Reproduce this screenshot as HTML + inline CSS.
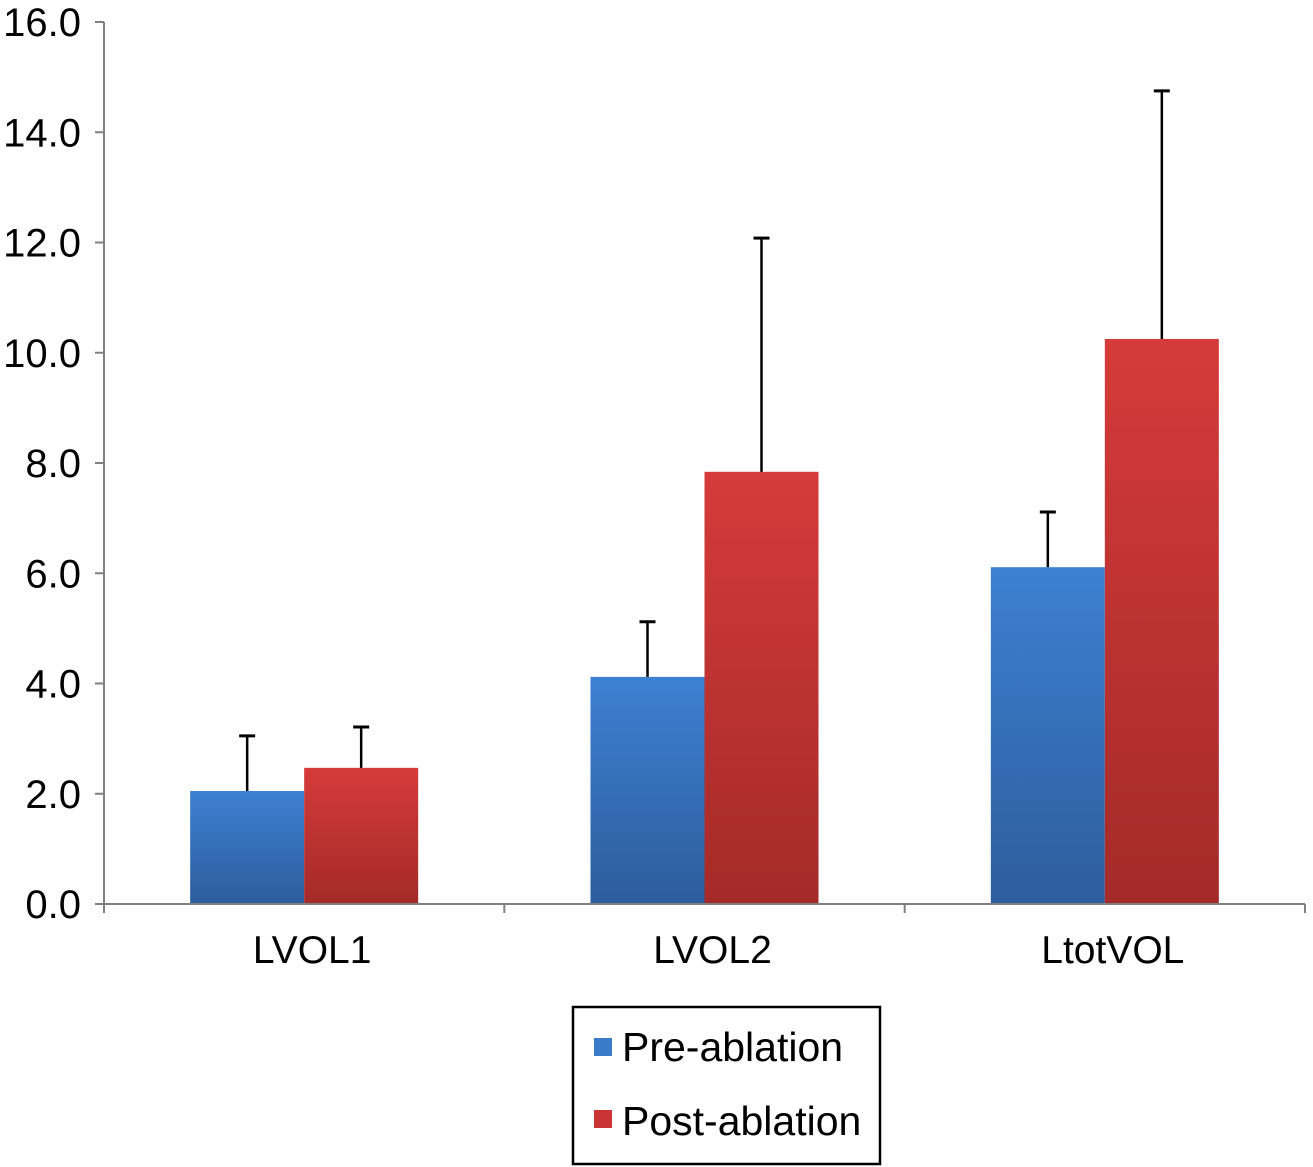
<!DOCTYPE html>
<html><head><meta charset="utf-8"><style>
html,body{margin:0;padding:0;background:#fff;}
svg{display:block;font-family:"Liberation Sans",Arial,sans-serif;}
</style></head><body>
<svg id="chart" width="1313" height="1167" viewBox="0 0 1313 1167">
<defs>
<linearGradient id="gb" x1="0" y1="0" x2="0" y2="1"><stop offset="0" stop-color="#3d80d2"/><stop offset="1" stop-color="#2d5d9c"/></linearGradient>
<linearGradient id="gr" x1="0" y1="0" x2="0" y2="1"><stop offset="0" stop-color="#d53b3a"/><stop offset="1" stop-color="#a42a29"/></linearGradient>
</defs>
<g id="plot"></g>
<g>
<rect x="573" y="1007" width="307" height="157" fill="#fff" stroke="#000" stroke-width="2.5"/>
<rect x="594" y="1038" width="18" height="18" fill="#3a7acb"/>
<text x="622" y="1061" font-size="41">Pre-ablation</text>
<rect x="594" y="1110" width="18" height="18" fill="#c83534"/>
<text x="622" y="1135" font-size="41">Post-ablation</text>
</g>
</svg>
<script>
const categories = ["LVOL1","LVOL2","LtotVOL"];
const preValues = [2.05, 4.12, 6.11];
const preErrors = [1.0, 1.0, 1.0];
const postValues = [2.47, 7.84, 10.25];
const postErrors = [0.74, 4.24, 4.5];
const yTicks = [0,2,4,6,8,10,12,14,16];

const NS="http://www.w3.org/2000/svg";
const g=document.getElementById('plot');
const x0=104,x1=1305,y0=904,yTop=22,yMax=16;
function y(v){return y0-(v/yMax)*(y0-yTop);}
const band=(x1-x0)/categories.length;
function mk(t,a){const e=document.createElementNS(NS,t);for(const k in a)e.setAttribute(k,a[k]);g.appendChild(e);return e;}
let e=mk('line',{x1:x0,y1:yTop,x2:x0,y2:y0,stroke:'#808080','stroke-width':2});


yTicks.forEach(v=>{
 let t=mk('line',{x1:x0-9,y1:y(v),x2:x0,y2:y(v),stroke:'#808080','stroke-width':2});
 
 
 let l=mk('text',{x:x0-23,y:y(v)+14,'font-size':40,'text-anchor':'end'});
 l.textContent=v.toFixed(1);
 
 
});
const barW=114;
categories.forEach((c,i)=>{
 const cx=x0+band*(i+0.5);
 [[preValues[i],preErrors[i],'url(#gb)',cx-barW,'bar-pre-'],[postValues[i],postErrors[i],'url(#gr)',cx,'bar-post-']].forEach(([v,er,f,bx,nm])=>{
  let b=mk('rect',{x:bx,y:y(v),width:barW,height:y0-y(v),fill:f});
  
  
  const ex=bx+barW/2;
  let el=mk('line',{x1:ex,y1:y(v),x2:ex,y2:y(v+er),stroke:'#000','stroke-width':2.5});
  
  
  let cp=mk('line',{x1:ex-8,y1:y(v+er),x2:ex+8,y2:y(v+er),stroke:'#000','stroke-width':3});
  
  
 });
 let l=mk('text',{x:cx+8,y:963,'font-size':39,'text-anchor':'middle'});
 l.textContent=c;
 
 
});
e=mk('line',{x1:x0,y1:y0,x2:x1,y2:y0,stroke:'#808080','stroke-width':2});


for(let i=0;i<=categories.length;i++){
 let t=mk('line',{x1:x0+band*i,y1:y0,x2:x0+band*i,y2:y0+9,stroke:'#808080','stroke-width':2});
 
 
}
</script>
</body></html>
